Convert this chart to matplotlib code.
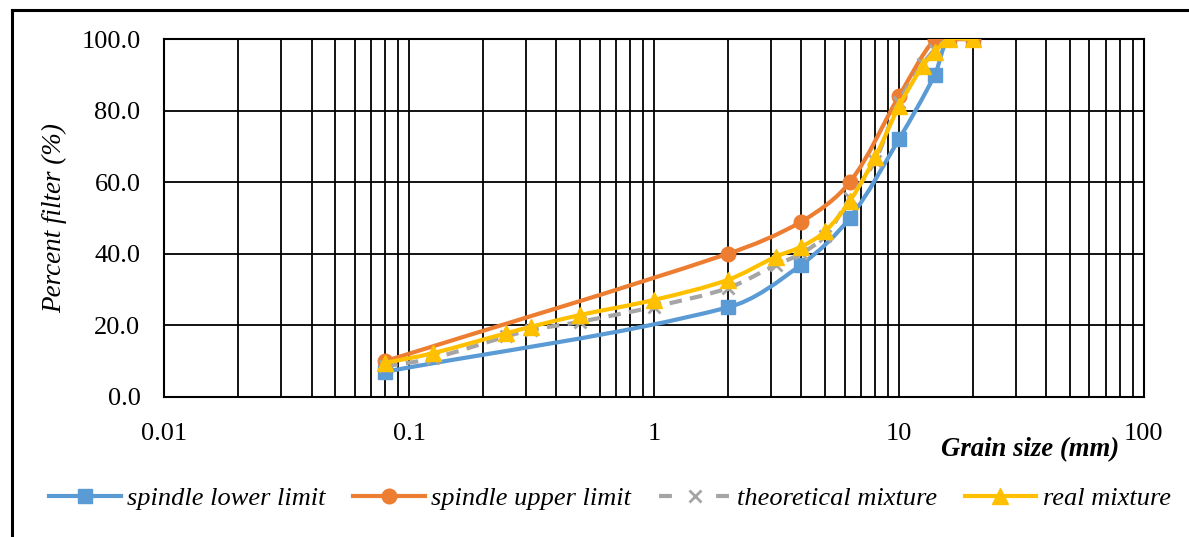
import numpy as np
import matplotlib.pyplot as plt
from matplotlib.path import Path
from matplotlib.patches import PathPatch
from matplotlib.lines import Line2D
from matplotlib.ticker import LogLocator, FixedLocator, FixedFormatter, NullFormatter

plt.rcParams['font.family'] = ['Liberation Serif', 'DejaVu Serif']

# sieve sizes (mm) and percent passing
lower_size = [0.08, 2, 4, 6.3, 10, 14, 16, 20]
lower_pct = [7.0, 25.0, 37.0, 50.0, 72.0, 90.0, 100.0, 100.0]

upper_size = [0.08, 2, 4, 6.3, 10, 14, 16, 20]
upper_pct = [10.0, 40.0, 49.0, 60.0, 84.0, 100.0, 100.0, 100.0]

mix_size = [0.08, 0.125, 0.25, 0.315, 0.5, 1, 2, 3.15, 4, 5, 6.3, 8, 10, 12.5, 14, 16, 20]
theo_pct = [8.5, 10.8, 16.9, 18.7, 21.0, 25.2, 30.4, 36.9, 40.1, 45.0, 55.5, 66.0, 82.5, 93.0, 97.0, 100.0, 100.0]
real_pct = [9.5, 12.2, 17.8, 19.6, 22.9, 27.1, 32.7, 39.2, 42.0, 46.3, 54.7, 67.0, 81.2, 92.5, 96.4, 100.0, 100.0]

x_ticks = [0.01, 0.1, 1, 10, 100]
x_labels = ['0.01', '0.1', '1', '10', '100']
y_ticks = [0, 20, 40, 60, 80, 100]


def smooth_path(xs, ys, f=1 / 3):
    # smoothed line like Excel: bezier with length-weighted tangents,
    # worked out in screen-like units (log x decades vs percent)
    X = np.log10(xs) * 245.0
    Y = np.asarray(ys, float) * 3.58
    P = np.column_stack([X, Y])
    n = len(P)
    verts = [(xs[0], ys[0])]
    codes = [Path.MOVETO]
    for i in range(n - 1):
        a, b = P[i], P[i + 1]
        prev = P[i - 1] if i > 0 else a
        nxt = P[i + 2] if i + 2 < n else b
        d0 = np.hypot(*(a - prev))
        d1 = np.hypot(*(b - a))
        d2 = np.hypot(*(nxt - b))
        w1 = d1 / (d0 + d1) if d0 + d1 > 0 else 0
        w2 = d1 / (d1 + d2) if d1 + d2 > 0 else 0
        c1 = a + f * w1 * (b - prev) if i > 0 else a + (b - a) * f
        c2 = b - f * w2 * (nxt - a) if i + 2 < n else b - (b - a) * f
        for cx, cy in (c1, c2, b):
            verts.append((10 ** (cx / 245.0), cy / 3.58))
        codes += [Path.CURVE4] * 3
    return Path(verts, codes)


fig = plt.figure(figsize=(11.89, 5.37), dpi=100)
ax = fig.add_axes([0.138, 0.261, 0.824, 0.666])
ax.set_xscale('log')
ax.set_xlim(0.01, 100)
ax.set_ylim(0, 100)

series = [
    (lower_size, lower_pct, '#5B9BD5', 's', '-', 10.5, 'spindle lower limit'),
    (upper_size, upper_pct, '#ED7D31', 'o', '-', 10.5, 'spindle upper limit'),
    (mix_size, theo_pct, '#A5A5A5', 'x', (0, (3, 2)), 9, 'theoretical mixture'),
    (mix_size, real_pct, '#FFC000', '^', '-', 12, 'real mixture'),
]

handles = []
for k, (xs, ys, col, mk, ls, ms, lab) in enumerate(series):
    patch = PathPatch(smooth_path(xs, ys), fill=False, edgecolor=col, lw=3,
                      linestyle=ls, zorder=3 + k, capstyle='butt')
    ax.add_patch(patch)
    mew = 2 if mk == 'x' else 1
    ax.plot(xs, ys, linestyle='none', marker=mk, color=col, markersize=ms,
            markeredgewidth=mew, zorder=3 + k)
    hls = (0, (3.1, 10.6)) if ls != '-' else ls
    handles.append(Line2D([], [], color=col, lw=3, linestyle=hls, marker=mk,
                          markersize=ms, markeredgewidth=mew))

# grid
ax.xaxis.set_major_locator(FixedLocator(x_ticks))
ax.xaxis.set_major_formatter(FixedFormatter(x_labels))
ax.xaxis.set_minor_locator(LogLocator(base=10, subs=np.arange(2, 10)))
ax.xaxis.set_minor_formatter(NullFormatter())
ax.set_yticks(y_ticks)
ax.set_yticklabels([f'{v:.1f}' for v in y_ticks])
ax.grid(True, which='both', axis='x', color='black', lw=1.3)
ax.grid(True, which='major', axis='y', color='black', lw=1.3)
ax.tick_params(which='both', length=0, labelsize=19)
ax.tick_params(axis='y', pad=17)
ax.tick_params(axis='x', pad=19)
for s in ax.spines.values():
    s.set_linewidth(1.5)

ax.set_ylabel('Percent filter (%)', fontsize=19.5, style='italic', labelpad=10)
fig.text(0.866, 0.162, 'Grain size (mm)', fontsize=19.3, style='italic',
         weight='bold', ha='center', va='center')

fig.legend(handles, [s[6] for s in series], loc='center', ncol=4,
           bbox_to_anchor=(0.513, 0.072), frameon=False,
           prop={'style': 'italic', 'size': 19}, handlelength=2.7,
           columnspacing=1.05, handletextpad=0.25)

# outer frame (top and left edges only)
fig.add_artist(Line2D([0.0101, 0.0101], [0.0, 0.981], color='black', lw=2.2,
                      transform=fig.transFigure))
fig.add_artist(Line2D([0.0101, 1.0], [0.981, 0.981], color='black', lw=2.2,
                      transform=fig.transFigure))

fig.savefig('out.png', dpi=100)
